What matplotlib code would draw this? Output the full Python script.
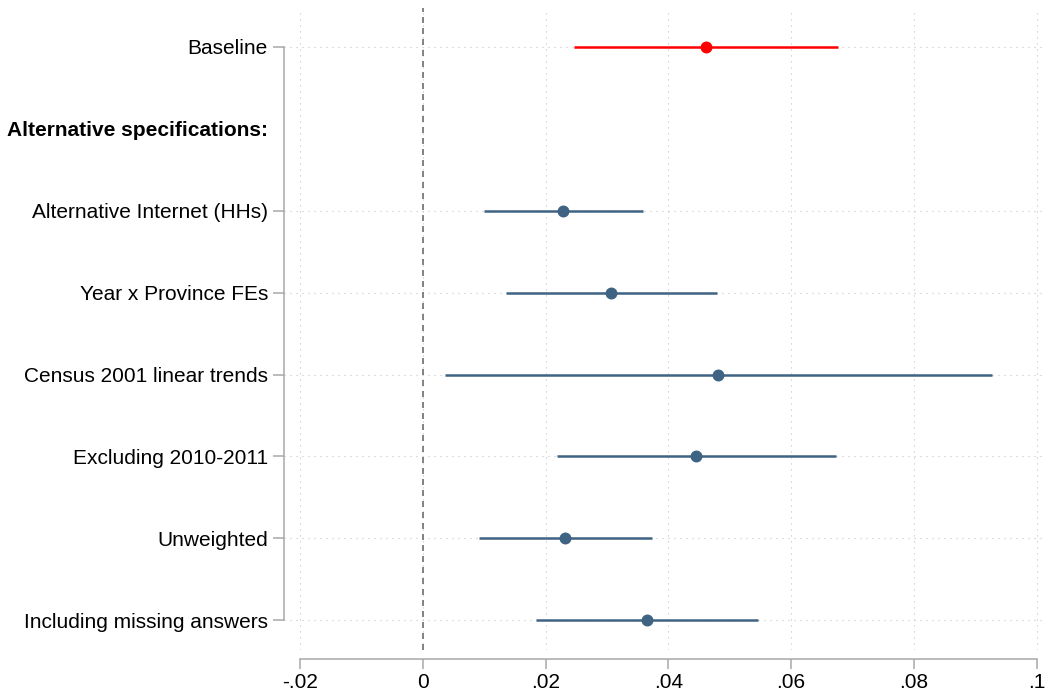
import numpy as np
import matplotlib
matplotlib.use("Agg")
import matplotlib.pyplot as plt

plt.rcParams['font.family'] = ['Liberation Sans', 'DejaVu Sans']

# Estimates and 95% CIs
labels = ["Baseline", "Alternative Internet (HHs)", "Year x Province FEs",
          "Census 2001 linear trends", "Excluding 2010-2011", "Unweighted",
          "Including missing answers"]
coef = [0.0461, 0.0229, 0.0307, 0.0481, 0.0445, 0.0232, 0.0365]
ci_lo = [0.0246, 0.0100, 0.0135, 0.0037, 0.0218, 0.0092, 0.0185]
ci_hi = [0.0676, 0.0359, 0.0479, 0.0927, 0.0673, 0.0374, 0.0546]
header = "Alternative specifications:"
xticks = [-0.02, 0, 0.02, 0.04, 0.06, 0.08, 0.1]
xticklabels = ["-.02", "0", ".02", ".04", ".06", ".08", ".1"]

red = "#ff0000"
blue = "#3e6383"
axis_gray = "#a8a8a8"

# rows: baseline at 0, header at 1, the rest below
ypos = [0] + list(range(2, len(labels) + 1))

fig = plt.figure(figsize=(10.48, 6.98), dpi=100)
ax = fig.add_axes([284 / 1048, 48 / 698, (1046 - 284) / 1048, (650 - 8) / 698])

# spines first (set_position resets the ticks)
for s in ["top", "right"]:
    ax.spines[s].set_visible(False)
ax.spines["bottom"].set_position(("outward", 6.5))
for s in ["left", "bottom"]:
    ax.spines[s].set_color(axis_gray)
    ax.spines[s].set_linewidth(1.1)

ax.set_xlim(-0.02259, 0.10151)
ax.set_ylim(7.363, -0.476)

# zero line
ax.axvline(0, color="#6e6e6e", lw=1.2, dashes=(3.6, 3.0), zorder=1)

for i, y in enumerate(ypos):
    c = red if i == 0 else blue
    ax.plot([ci_lo[i], ci_hi[i]], [y, y], color=c, lw=1.8, solid_capstyle="butt", zorder=3)
    ax.plot(coef[i], y, "o", color=c, markersize=8.6, markeredgewidth=0, zorder=4)

# y axis
yticks = [0, 1] + ypos[1:]
ylabels = [labels[0], header] + labels[1:]
ax.set_yticks(yticks)
ax.set_yticklabels(ylabels)
ax.set_xticks(xticks)
ax.set_xticklabels(xticklabels)

ax.tick_params(axis="y", length=8, width=1.1, color=axis_gray, pad=3.6, labelsize=15)
ax.tick_params(axis="x", length=7, width=1.1, color=axis_gray, pad=3, labelsize=15)
ax.get_yticklabels()[1].set_fontweight("bold")

ax.grid(True, color="#c4c4c4", lw=0.8, dashes=(1, 4.4), zorder=0)
ticks = ax.yaxis.get_major_ticks()
ticks[1].tick1line.set_visible(False)
ticks[1].gridline.set_visible(False)

ax.spines["left"].set_bounds(0, 7)
ax.spines["bottom"].set_bounds(-0.02, 0.1)
ax.set_axisbelow(True)

fig.savefig("out.png", dpi=100)
